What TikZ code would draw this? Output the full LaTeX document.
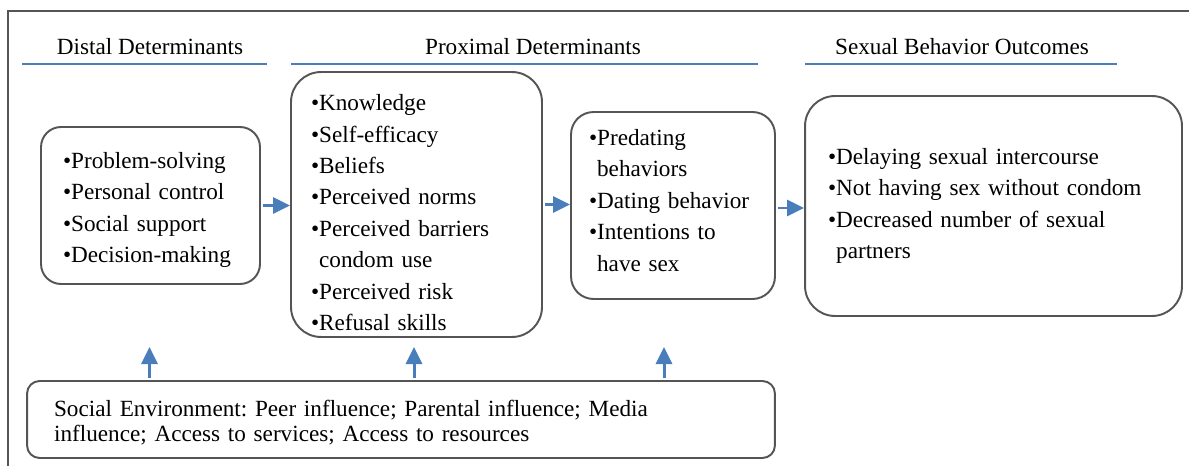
\documentclass[tikz,border=0pt]{standalone}
\usepackage{fontspec}
\setmainfont{Liberation Serif}
\usepackage{tikz}
\usetikzlibrary{arrows.meta}

\definecolor{azul}{RGB}{74,126,187}
\definecolor{gris}{RGB}{85,85,85}

\newcommand{\vineta}{\textbullet}
\newcommand{\sangria}{\hphantom{\textbullet}}
\frenchspacing

\begin{document}
\begin{tikzpicture}[x=0.02cm,y=-0.02cm,
    caja/.style={draw=gris,line width=1.1pt,align=left,inner ysep=0pt,
      font=\fontsize{13.2}{17.9}\selectfont},
    titulo/.style={font=\fontsize{13.2}{16}\selectfont,inner sep=0pt},
    raya/.style={draw=azul,line width=1.3pt},
    flecha/.style={draw=azul,line width=1.7pt,shorten <=1pt,
      -{Triangle[width=0.32cm,length=0.34cm]}}]
    \useasboundingbox (0,0) rectangle (1189,466);

    % Marco exterior
    \draw[gris,line width=1.1pt] (8,466) -- (8,11) -- (1189,11);

    % Titulos
    \node[titulo] (tdist) at (150,47) {Distal Determinants};
    \node[titulo] (tprox) at (533,47) {Proximal Determinants};
    \node[titulo] (tsal) at (962,47) {Sexual Behavior Outcomes};
    \draw[raya] (22,64) -- (267,64);
    \draw[raya] (291,64) -- (758,64);
    \draw[raya] (805,64) -- (1117,64);

    % Cajas
    \node[caja,rounded corners=0.4cm,minimum width=4.38cm,minimum height=3.14cm,
      text width=3.5cm,inner xsep=0.44cm] (distal) at (150.5,205.5)
      {\rule{0pt}{14pt}\vineta Problem-solving\\ \vineta Personal control\\
       \vineta Social support\\ \vineta Decision-making};
    \node[caja,rounded corners=0.6cm,minimum width=5.02cm,minimum height=5.3cm,
      text width=4.22cm,inner xsep=0.4cm] (prox) at (416.5,204.5)
      {\rule{0pt}{18.5pt}\vineta Knowledge\\ \vineta Self-efficacy\\ \vineta Beliefs\\
       \vineta Perceived norms\\ \vineta Perceived barriers\\ \sangria condom use\\
       \vineta Perceived risk\\ \vineta Refusal skills};
    \node[caja,rounded corners=0.45cm,minimum width=4.08cm,minimum height=3.74cm,
      text width=3.36cm,inner xsep=0.36cm] (conducta) at (673,205.5)
      {\vineta Predating\\ \sangria behaviors\\ \vineta Dating behavior\\
       \vineta Intentions to\\ \sangria have sex\rule[-6pt]{0pt}{6pt}};
    \node[caja,rounded corners=0.6cm,minimum width=7.54cm,minimum height=4.4cm,
      text width=6.62cm,inner xsep=0.46cm] (salida) at (993.5,206)
      {\vineta Delaying sexual intercourse\\ \vineta Not having sex without condom\\
       \vineta Decreased number of sexual\\ \sangria partners};
    \node[caja,rounded corners=0.25cm,minimum width=14.96cm,minimum height=1.54cm,
      text width=13.88cm,inner xsep=0.54cm,
      font=\fontsize{13.2}{14.4}\selectfont] (social) at (401,419.5)
      {\rule{0pt}{13pt}Social Environment: Peer influence; Parental influence; Media\\
       influence; Access to services; Access to resources};

    % Flechas
    \draw[flecha] (distal.east) -- (distal.east -| prox.west);
    \draw[flecha] (prox.east) -- (prox.east -| conducta.west);
    \draw[flecha] ([yshift=-0.05cm]conducta.east) -- ([yshift=-0.05cm]conducta.east -| salida.west);

    \coordinate (u1) at (149.5,347);
    \coordinate (u2) at (414,347);
    \coordinate (u3) at (664,347);
    \draw[flecha] (social.north -| u1) -- (u1);
    \draw[flecha] (social.north -| u2) -- (u2);
    \draw[flecha] (social.north -| u3) -- (u3);
\end{tikzpicture}
\end{document}
